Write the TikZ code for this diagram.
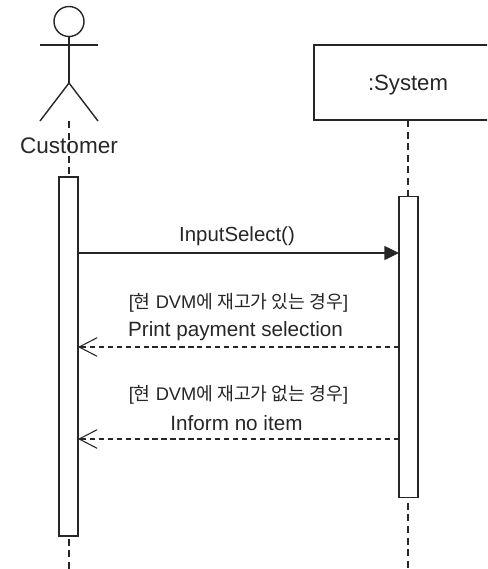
\documentclass[tikz,border=0pt]{standalone}
\usepackage{fontspec}
\setmainfont{Liberation Sans}
\newfontfamily\krfont{Noto Sans CJK KR}
\usetikzlibrary{arrows.meta}
\tikzset{
  x=0.75pt,y=-0.75pt,
  ink/.style={line width=1.05pt,draw=black!85},
  lifeline/.style={ink,dash pattern=on 5.2pt off 3.5pt},
  bar/.style={ink,fill=white,minimum width=14.25pt,inner sep=0pt,outer sep=0pt},
  obj/.style={ink,fill=white,minimum width=141pt,minimum height=56.25pt,inner sep=0pt,outer sep=0pt},
  lab/.style={inner sep=0pt,text=black!85},
  syncmsg/.style={ink,-{Triangle[length=11pt,width=10.5pt]}},
  retmsg/.style={ink,dash pattern=on 4pt off 2.7pt,-{Straight Barb[length=13.5pt,width=14pt,line width=0.8pt]}}
}
\begin{document}
\begin{tikzpicture}
\useasboundingbox (0,0) rectangle (487,569);
\clip (0,0) rectangle (487,569);
% actor
\node[ink,circle,minimum size=22.5pt,inner sep=0pt,outer sep=0pt] (head) at (69,21.5) {};
\coordinate (neck) at (69,45);
\coordinate (armL) at (40,45);
\coordinate (armR) at (98,45);
\coordinate (hip) at (69,83);
\coordinate (legL) at (40,121);
\coordinate (legR) at (98,121);
\draw[ink] (head.south) -- (hip);
\draw[ink] (armL) -- (armR);
\draw[ink] (legL) -- (hip) -- (legR);
% lifelines
\coordinate (custTop) at (69,121);
\coordinate (custEnd) at (69,569);
\coordinate (sysEnd) at (408,569);
\node[obj] (sys) at (408,82.5) {};
\node[lab,font=\fontsize{16.6pt}{18pt}\selectfont] (sysname) at (408,85) {:System};
\draw[lifeline] (custTop) -- (custEnd);
\draw[lifeline] (sys.south) -- (sysEnd);
\node[lab,font=\fontsize{16.9pt}{18pt}\selectfont] (customer) at (69,146) {Customer};
% activations
\node[bar,minimum height=269.25pt] (actC) at (68.5,356.5) {};
\node[bar,minimum height=225.75pt] (actS) at (408.5,347) {};
% messages
\coordinate (m1) at (0,253);
\coordinate (m2) at (0,347);
\coordinate (m3) at (0,439);
\draw[syncmsg] (actC.east |- m1) -- (actS.west |- m1);
\draw[retmsg] (actS.west |- m2) -- (actC.east |- m2);
\draw[retmsg] (actS.west |- m3) -- (actC.east |- m3);
% labels
\node[lab,font=\fontsize{15.3pt}{18pt}\selectfont] (l1) at (237,236) {InputSelect()};
\node[lab,font=\fontsize{13.7pt}{16pt}\selectfont] (l2) at (238.5,303) {[{\krfont 현} DVM{\krfont 에 재고가 있는 경우}]};
\node[lab,font=\fontsize{15.5pt}{18pt}\selectfont] (l3) at (235.5,331) {Print payment selection};
\node[lab,font=\fontsize{13.7pt}{16pt}\selectfont] (l4) at (238.5,395) {[{\krfont 현} DVM{\krfont 에 재고가 없는 경우}]};
\node[lab,font=\fontsize{15.5pt}{18pt}\selectfont] (l5) at (236.5,423) {Inform no item};
\end{tikzpicture}
\end{document}
